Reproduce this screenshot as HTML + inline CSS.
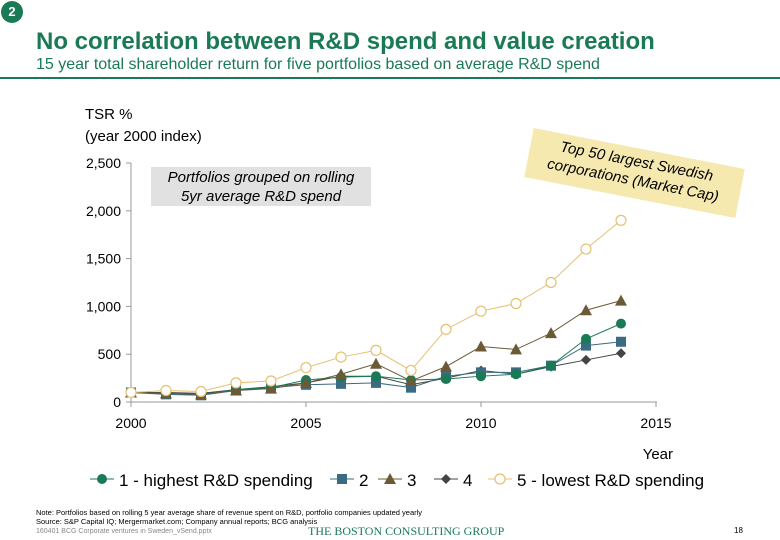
<!DOCTYPE html>
<html><head><meta charset="utf-8"><style>
body{margin:0;width:780px;height:540px;background:#fff;font-family:"Liberation Sans",sans-serif;overflow:hidden;position:relative}
.a{position:absolute}
</style></head><body>
<div class="a" style="left:1px;top:1px;width:22px;height:22px;border-radius:50%;background:#1a7a55;color:#fff;font-weight:bold;font-size:13px;text-align:center;line-height:22px">2</div>
<div class="a" style="left:36px;top:28px;font-size:24px;font-weight:bold;color:#1a7a55">No correlation between R&amp;D spend and value creation</div>
<div class="a" style="left:36px;top:56px;font-size:16px;color:#1a7a55">15 year total shareholder return for five portfolios based on average R&amp;D spend</div>
<div class="a" style="left:0;top:77px;width:780px;height:2px;background:#1a7a55"></div>
<div class="a" style="left:85px;top:104px;font-size:15px;line-height:22px;color:#000">TSR %<br>(year 2000 index)</div>
<div class="a" style="left:151px;top:167px;width:220px;height:38px;background:#e1e1e1;font-style:italic;font-size:15px;text-align:center;line-height:19px;padding-top:1px">Portfolios grouped on rolling<br>5yr average R&amp;D spend</div>
<div class="a" style="left:527px;top:148px;width:215px;height:46px;background:#f6e9b0;font-style:italic;font-size:15px;text-align:center;line-height:19px;padding-top:4px;transform:rotate(11deg)">Top 50 largest Swedish<br>corporations (Market Cap)</div>
<svg class="a" style="left:0;top:0" width="780" height="540" id="chart"></svg>
<div class="a" style="left:36px;top:508px;font-size:7.5px;line-height:9px">Note: Portfolios based on rolling 5 year average share of revenue spent on R&amp;D, portfolio companies updated yearly<br>Source: S&amp;P Capital IQ; Mergermarket.com; Company annual reports; BCG analysis</div>
<div class="a" style="left:36px;top:528px;font-size:7px;color:#888">160401 BCG Corporate ventures in Sweden_vSend.pptx</div>
<div class="a" style="left:308px;top:524px;font-family:'Liberation Serif',serif;font-size:12px;color:#1a7a55">THE BOSTON CONSULTING GROUP</div>
<div class="a" style="left:734px;top:526px;font-size:8px">18</div>
<script>
const years=[2000,2001,2002,2003,2004,2005,2006,2007,2008,2009,2010,2011,2012,2013,2014];
const s1=[100,90,80,130,150,230,260,270,230,240,270,290,380,660,820];
const s2=[100,80,70,120,150,180,190,200,150,270,310,310,380,590,630];
const s3=[100,90,80,120,140,200,290,400,220,370,580,550,720,960,1060];
const s4=[100,100,90,130,160,200,270,270,180,250,330,290,370,440,510];
const s5=[100,120,110,200,220,360,470,540,330,760,950,1030,1250,1600,1900];
const yTicks=[0,500,1000,1500,2000,2500];
const yTickLabels=["0","500","1,000","1,500","2,000","2,500"];
const xTicks=[2000,2005,2010,2015];
const names=["1 - highest R&D spending","2","3","4","5 - lowest R&D spending"];
const NS="http://www.w3.org/2000/svg";
const svg=document.getElementById('chart');
const X=v=>131+(v-2000)*35, Y=v=>402-v*0.0956;
function mk(t,a,p){const e=document.createElementNS(NS,t);for(const k in a)e.setAttribute(k,a[k]);(p||svg).appendChild(e);return e;}
let ax=mk('line',{x1:131,y1:163,x2:131,y2:402,stroke:'#999'});

let bx=mk('line',{x1:131,y1:402,x2:657,y2:402,stroke:'#999'});

yTicks.forEach((v,i)=>{mk('line',{x1:126,x2:131,y1:Y(v),y2:Y(v),stroke:'#999'});
 const t=mk('text',{x:121,y:Y(v)+5,'text-anchor':'end','font-size':14});t.textContent=yTickLabels[i];
 });
xTicks.forEach(v=>{mk('line',{x1:X(v),x2:X(v),y1:402,y2:407,stroke:'#999'});
 const t=mk('text',{x:X(v),y:428,'text-anchor':'middle','font-size':14});t.textContent=v;
 });
const xt=mk('text',{x:673,y:459,'text-anchor':'end','font-size':15});xt.textContent='Year';

const cols=['#1a7a55','#3a6b80','#6b5a35','#444','#e6c070'];
function marker(k,x,y,g){const c=cols[k];
 if(k==0)return mk('circle',{cx:x,cy:y,r:5,fill:c},g);
 if(k==1)return mk('rect',{x:x-5,y:y-5,width:10,height:10,fill:c},g);
 if(k==2)return mk('polygon',{points:`${x},${y-6} ${x-6},${y+5} ${x+6},${y+5}`,fill:c},g);
 if(k==3)return mk('polygon',{points:`${x},${y-5} ${x+5},${y} ${x},${y+5} ${x-5},${y}`,fill:c},g);
 return mk('circle',{cx:x,cy:y,r:5,fill:'#fff',stroke:c,'stroke-width':1.2},g);}
[s4,s2,s1,s3,s5].forEach(s=>{});
const order=[3,1,0,2,4],all=[s1,s2,s3,s4,s5];
order.forEach(k=>{const s=all[k];const g=mk('g',{});
 
 mk('polyline',{points:s.map((v,i)=>X(years[i])+','+Y(v)).join(' '),fill:'none',stroke:cols[k],'stroke-width':1},g);
 s.forEach((v,i)=>{const m=marker(k,X(years[i]),Y(v),g);});});
const lx=[90,330,378,434,488];
names.forEach((n,k)=>{const g=mk('g',{});
 
 mk('line',{x1:lx[k],x2:lx[k]+24,y1:479,y2:479,stroke:cols[k]},g);marker(k,lx[k]+12,479,g);
 const t=mk('text',{x:lx[k]+29,y:486,'font-size':17},g);t.textContent=n;});
</script>
</body></html>
